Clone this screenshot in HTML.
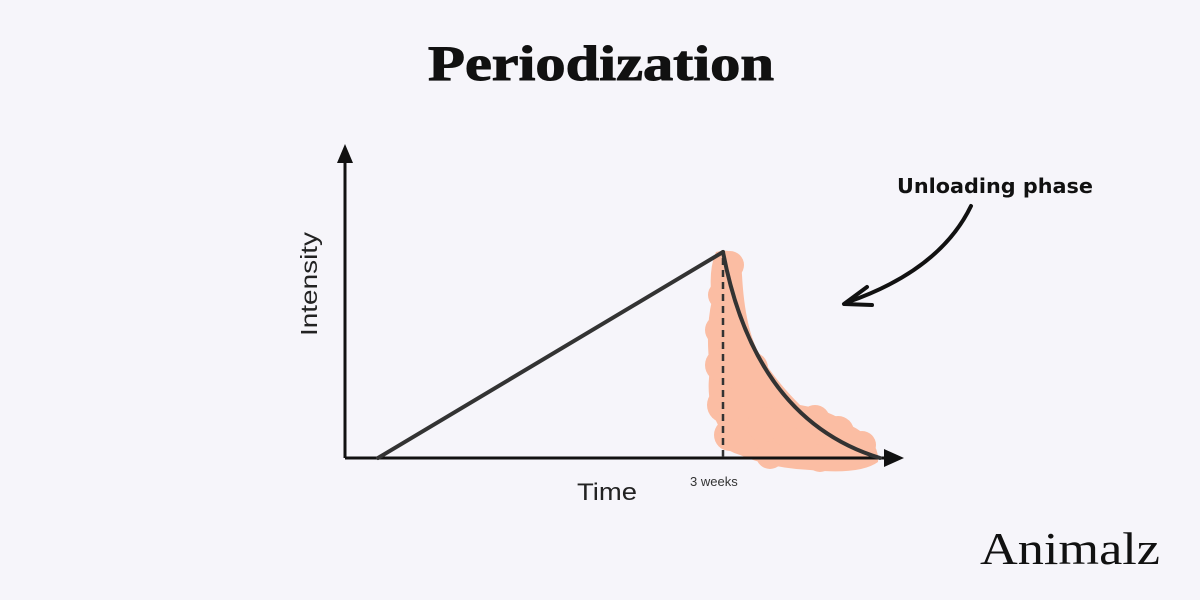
<!DOCTYPE html>
<html><head><style>
html,body{margin:0;padding:0;background:#f6f5fa;}
svg{display:block}
</style></head><body>
<svg width="1200" height="600" viewBox="0 0 1200 600" xmlns="http://www.w3.org/2000/svg">
<rect width="1200" height="600" fill="#f6f5fa"/>
<text x="428" y="80" textLength="346" lengthAdjust="spacingAndGlyphs" font-family="Liberation Serif, serif" font-weight="bold" font-size="50" fill="#111" stroke="#111" stroke-width="1">Periodization</text>
<!-- blob -->
<g fill="#fcb494" opacity="0.85">
<path d="M716,252 Q740,245 742,275 Q745,330 760,355 Q775,380 800,405 Q830,410 850,425 Q880,440 878,462 Q860,475 810,470 Q770,468 740,455 Q715,448 718,425 Q705,400 710,370 Q705,330 712,300 Q708,270 716,252 Z"/>
<circle cx="730" cy="265" r="14"/><circle cx="722" cy="295" r="14"/><circle cx="720" cy="330" r="15"/>
<circle cx="722" cy="365" r="17"/><circle cx="752" cy="368" r="16"/><circle cx="725" cy="405" r="18"/>
<circle cx="730" cy="435" r="16"/><circle cx="765" cy="425" r="18"/><circle cx="790" cy="445" r="18"/>
<circle cx="815" cy="420" r="15"/><circle cx="838" cy="432" r="16"/><circle cx="862" cy="445" r="14"/>
<circle cx="820" cy="458" r="14"/><circle cx="770" cy="455" r="14"/>
</g>
<!-- axes -->
<g stroke="#111" stroke-width="3" fill="none">
<line x1="345" y1="458" x2="890" y2="458"/>
<line x1="345" y1="458" x2="345" y2="160"/>
</g>
<polygon points="345,144 337,163 353,163" fill="#111"/>
<polygon points="904,458 884,449 884,467" fill="#111"/>
<!-- series -->
<g stroke="#333" stroke-width="4" fill="none" stroke-linecap="round">
<line x1="378" y1="458" x2="723" y2="252"/>
<path d="M723,252 Q755,420 880,458"/>
</g>
<line x1="723" y1="258" x2="723" y2="458" stroke="#333" stroke-width="2.5" stroke-dasharray="7,5"/>
<!-- labels -->
<text x="577" y="500" textLength="60" lengthAdjust="spacingAndGlyphs" font-family="Liberation Sans, sans-serif" font-size="24" fill="#222">Time</text>
<text transform="translate(317,336) rotate(-90)" textLength="104" lengthAdjust="spacingAndGlyphs" font-family="Liberation Sans, sans-serif" font-size="23" fill="#222">Intensity</text>
<text x="690" y="486" font-family="Liberation Sans, sans-serif" font-size="13" fill="#333">3 weeks</text>
<text x="897" y="193" textLength="196" lengthAdjust="spacingAndGlyphs" font-family="DejaVu Sans, sans-serif" font-weight="bold" font-size="20" fill="#111">Unloading phase</text>
<path d="M971,206 Q940,270 848,302" stroke="#111" stroke-width="4" fill="none" stroke-linecap="round"/>
<path d="M867,287 L844,304 L872,305" stroke="#111" stroke-width="4" fill="none" stroke-linecap="round" stroke-linejoin="round"/>
<text x="980" y="564" textLength="180" lengthAdjust="spacingAndGlyphs" font-family="Liberation Serif, serif" font-size="46" fill="#111">Animalz</text>
</svg>
</body></html>
